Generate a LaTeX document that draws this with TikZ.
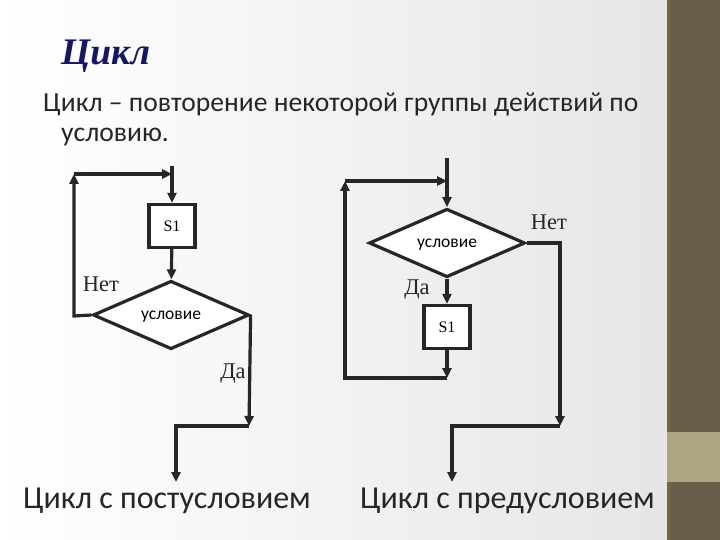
\documentclass[tikz,border=0pt]{standalone}
\usepackage{fontspec}
\setmainfont{Carlito}
\newfontfamily\timesfont{Liberation Serif}
\usepackage{tikz}
\usetikzlibrary{arrows.meta, shapes.geometric, positioning, calc}

\definecolor{titleblue}{RGB}{22,22,102}
\definecolor{ink}{RGB}{38,38,38}
\definecolor{stripbrown}{RGB}{102,94,74}
\definecolor{stripedge}{RGB}{112,102,66}
\definecolor{stripband}{RGB}{172,165,127}

\begin{document}
\begin{tikzpicture}[x=1pt, y=-1pt,
    >={Triangle[length=10pt, width=9pt]},
    flow/.style={->, draw=ink, line width=3.2pt},
    box/.style={draw=ink, line width=3.2pt, fill=white, minimum width=46pt, minimum height=43pt,
                inner sep=0pt, font=\timesfont\fontsize{16}{16}\selectfont},
    cond/.style={diamond, draw=ink, line width=3.2pt, fill=white, inner sep=0pt, text depth=0pt,
                 minimum width=156pt, minimum height=64pt, font=\fontsize{17.5}{17.5}\selectfont},
    answer/.style={font=\timesfont\fontsize{22.5}{22.5}\selectfont, text=ink}]
    \useasboundingbox (0,0) rectangle (720,540);

    % Background and side strip
    \shade[left color=white, right color=black!10] (0,0) rectangle (667,540);
    \fill[stripbrown] (667,0) rectangle (720,540);
    \fill[stripedge] (667,0) rectangle (671,540);
    \fill[stripband] (667,432) rectangle (720,482);

    % Heading
    \node[anchor=base west, inner sep=0pt, text=titleblue,
          font=\timesfont\bfseries\itshape\fontsize{37.5}{37.5}\selectfont] (title) at (61,65) {Цикл};
    \node[anchor=base west, inner sep=0pt, align=left, text=ink,
          font=\fontsize{27.6}{30}\selectfont] (def) at (43,142)
          {Цикл – повторение некоторой группы действий по\\\makebox[18pt]{}условию.};

    % Loop with postcondition
    \coordinate (t1) at (172,166);
    \coordinate (j1) at (172,174);
    \coordinate (l1) at (74,174);
    \coordinate (l2) at (74,316);
    \node[box] (s1a) at (172,226) {S1};
    \node[cond] (c1) at (171,315) {условие};
    \coordinate (r1) at (249,426);
    \coordinate (d1) at (176,426);
    \coordinate (e1) at (176,482);
    \draw[flow] (t1) -- (s1a.north);
    \draw[flow] (s1a) -- (c1);
    \draw[flow] (c1.west) -- (l2) -- (l1);
    \draw[flow] (l1) -- (j1);
    \draw[flow] (c1.east) -- (r1);
    \draw[flow] (r1) -- (d1) -- (e1);
    \node[answer] (no1) at (101,284) {Нет};
    \node[answer] (yes1) at (233,374) {Да};

    % Loop with precondition
    \coordinate (t2) at (447,158);
    \coordinate (j2) at (447,181);
    \coordinate (l3) at (345,181);
    \coordinate (l4) at (345,378);
    \coordinate (j3) at (447,378);
    \node[cond] (c2) at (447,243) {условие};
    \node[box] (s1b) at (447,327) {S1};
    \coordinate (n1) at (560,243);
    \coordinate (n2) at (560,426);
    \coordinate (d2) at (452,426);
    \coordinate (e2) at (452,482);
    \draw[flow] (t2) -- (c2.north);
    \draw[flow] (c2) -- (s1b);
    \draw[flow] (s1b) -- (j3);
    \draw[flow] (j3) -- (l4) -- (l3);
    \draw[flow] (l3) -- (j2);
    \draw[flow] (c2.east) -- (n1) -- (n2);
    \draw[flow] (n2) -- (d2) -- (e2);
    \node[answer] (no2) at (549,222) {Нет};
    \node[answer] (yes2) at (417,290) {Да};

    % Captions
    \node[anchor=base west, inner sep=0pt, text=ink, font=\fontsize{32}{32}\selectfont]
          (post) at (23,508) {Цикл с постусловием};
    \node[anchor=base west, inner sep=0pt, text=ink, font=\fontsize{32}{32}\selectfont]
          (pre) at (360,508) {Цикл с предусловием};
\end{tikzpicture}
\end{document}
